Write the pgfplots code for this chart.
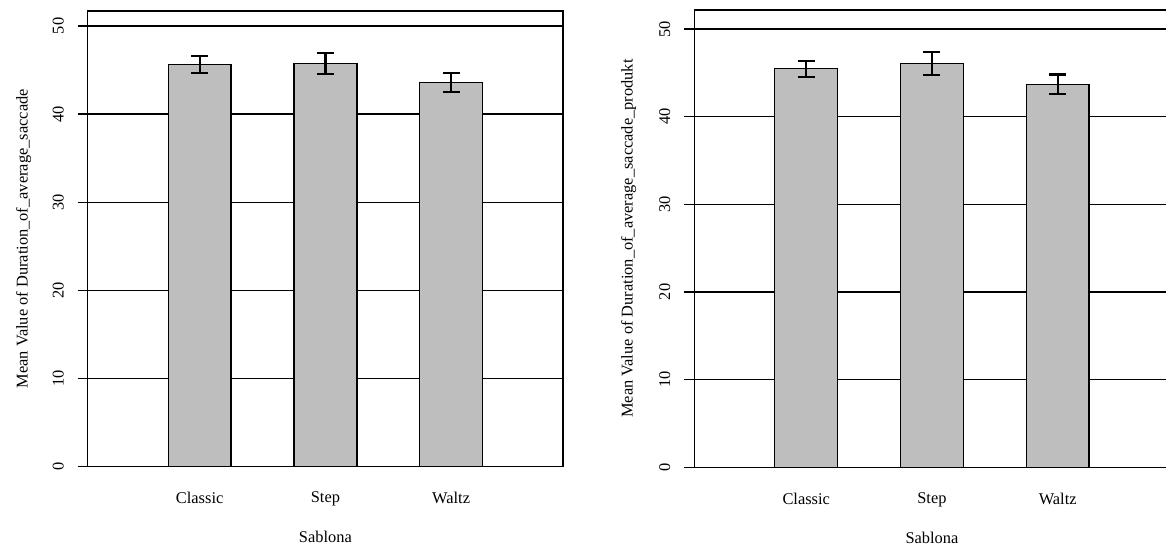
\documentclass[border=0pt]{standalone}
\usepackage{fontspec}
\setmainfont{Liberation Serif}
\usepackage{pgfplots}
\pgfplotsset{compat=1.18}
\definecolor{barfill}{RGB}{190,190,190}
\pgfplotsset{
  rbar/.style={
    scale only axis, anchor=south west,
    width=356.5pt,
    xmin=-0.28, xmax=7.28, ymin=0,
    ytick={0,10,20,30,40,50},
    ymajorgrids, grid style={black, line width=1pt},
    xtick={1.5,3.5,5.5}, xticklabels={Classic,Step,Waltz},
    xtick style={draw=none},
    ytick pos=left,
    tick align=outside, major tick length=7.5pt,
    ytick style={black, line width=1pt},
    axis line style={line width=1pt},
    yticklabel style={rotate=90, anchor=south, yshift=7pt},
    xticklabel style={yshift=-8pt},
    /pgf/number format/assume math mode=true,
    tick label style={font=\fontsize{12.3}{14}\selectfont},
    label style={font=\fontsize{12.3}{14}\selectfont},
    xlabel=Sablona,
  },
  barsty/.style={ybar, bar width=1, fill=barfill, draw=black, line width=1pt,
    error bars/.cd, y dir=both, y explicit,
    error bar style={line width=1.7pt, black},
    error mark options={rotate=90, mark size=6.4pt, line width=1.7pt, black}},
}
\begin{document}
\begin{tikzpicture}
\begin{axis}[rbar, at={(65.8pt,61pt)}, height=341.8pt, ymax=51.7,
  ylabel={Mean Value of Duration\_of\_average\_saccade},
  ylabel style={at={(axis description cs:-0.135,0.5)}, anchor=center},
  xlabel style={at={(axis description cs:0.5,-0.1536)}, anchor=center}]
\addplot[barsty] coordinates {
 (1.5,45.60) +- (0,0.97)
 (3.5,45.75) +- (0,1.20)
 (5.5,43.57) +- (0,1.10)
};
\end{axis}
\begin{axis}[rbar, at={(520.7pt,60.5pt)}, height=343pt, ymax=52.17,
  ylabel={Mean Value of Duration\_of\_average\_saccade\_produkt},
  ylabel style={at={(axis description cs:-0.138,0.5)}, anchor=center},
  xlabel style={at={(axis description cs:0.5,-0.1546)}, anchor=center}]
\addplot[barsty] coordinates {
 (1.5,45.47) +- (0,0.92)
 (3.5,46.09) +- (0,1.30)
 (5.5,43.69) +- (0,1.12)
};
\end{axis}
\pgfresetboundingbox
\useasboundingbox (0,0) rectangle (874.5pt,411pt);
\end{tikzpicture}
\end{document}
